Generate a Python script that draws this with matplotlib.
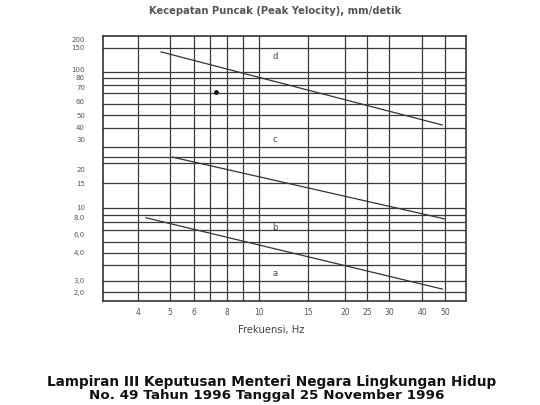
import numpy as np
import matplotlib
matplotlib.use("Agg")
import matplotlib.pyplot as plt

# tick labels
x_ticks = [4, 5, 6, 8, 10, 15, 20, 25, 30, 40, 50]
y_ticks = [2, 3, 4, 6, 8, 10, 15, 20, 30, 40, 50, 60, 70, 80, 100, 150, 200]
y_tick_labels = ['2,0', '3,0', '4,0', '6,0', '8.0', '10', '15', '20', '30', '40',
                 '50', '60', '70', '80', '100', '150', '200']

# boundary lines between zones (Hz, mm/detik)
line_cd_x = [4.7, 48.7]
line_cd_y = [137, 41.5]
line_bc_x = [5.1, 50]
line_bc_y = [23.6, 7.75]
line_ab_x = [4.23, 48.7]
line_ab_y = [7.9, 2.23]

zone_names = ['d', 'c', 'b', 'a']
zone_x = [11.4, 11.4, 11.4, 11.4]
zone_y = [125, 30, 6.8, 3.25]

# speck on the scanned sheet
dot_x = [7.33]
dot_y = [66]

# the printed grid is not a true log grid: map values to page positions
x_anchor_val = [3.13, 4, 5, 6, 7, 8, 9, 10, 15, 20, 25, 30, 40, 50, 62.5]
x_anchor_pos = [103, 138, 170, 194, 210, 227, 243, 259, 308, 345, 367, 389, 422, 445, 466]
y_anchor_val = [1.43, 2, 3, 4, 6, 8, 10, 15, 20, 30, 40, 50, 60, 70, 80, 100, 150, 200, 222]
y_anchor_pos = [301 - p for p in [301, 292, 281, 253, 235, 217, 208, 183, 169, 140, 127,
                                  115, 101, 87, 77, 69, 47, 39, 36]]


def fwd(vals, pos):
    lv = np.log10(vals)
    def f(v):
        v = np.clip(np.asarray(v, dtype=float), 1e-6, None)
        return np.interp(np.log10(v), lv, pos)
    def inv(p):
        return 10 ** np.interp(np.asarray(p, dtype=float), pos, lv)
    return f, inv


x_grid_minor = [7, 9]
y_grid = [2, 3, 3.54, 4, 5.12, 6.5, 7.4, 8.4, 10, 15, 21.7, 23.7, 27.2, 39, 50,
          57.7, 65.5, 72, 79, 92, 147]

fig = plt.figure(figsize=(5.4, 4.05), dpi=100)
ax = fig.add_axes([103 / 540, 1 - 301 / 405, 363 / 540, 265 / 405])

ax.set_xscale('function', functions=fwd(x_anchor_val, x_anchor_pos))
ax.set_yscale('function', functions=fwd(y_anchor_val, y_anchor_pos))
ax.set_xlim(x_anchor_val[0], x_anchor_val[-1])
ax.set_ylim(y_anchor_val[0], y_anchor_val[-1])

ax.set_xticks(x_ticks)
ax.set_xticklabels([str(t) for t in x_ticks])
ax.set_xticks(x_grid_minor, minor=True)
ax.set_yticks(y_ticks)
ax.set_yticklabels(y_tick_labels)
ax.set_yticks(y_grid, minor=True)
ax.yaxis.set_minor_formatter(plt.NullFormatter())
ax.xaxis.set_minor_formatter(plt.NullFormatter())
ax.xaxis.remove_overlapping_locs = False
ax.yaxis.remove_overlapping_locs = False

grid_kw = dict(color='#3a3a3a', linewidth=0.9)
ax.xaxis.grid(True, which='both', **grid_kw)
ax.yaxis.grid(True, which='minor', **grid_kw)
ax.yaxis.grid(False, which='major')
ax.tick_params(which='both', length=0)
ax.tick_params(axis='x', labelsize=5.5, labelcolor='#555555', pad=5)
ax.tick_params(axis='y', labelsize=5, labelcolor='#555555', pad=13)
for s in ax.spines.values():
    s.set_color('#333333')
    s.set_linewidth(1.2)

for lx, ly in [(line_cd_x, line_cd_y), (line_bc_x, line_bc_y), (line_ab_x, line_ab_y)]:
    ax.plot(lx, ly, color='#333333', linewidth=0.9)

for name, zx, zy in zip(zone_names, zone_x, zone_y):
    ax.text(zx, zy, name, fontsize=6, color='#444444', ha='center', va='center')

ax.scatter(dot_x, dot_y, s=6, color='#111111', zorder=3)

fig.text(275 / 540, 1 - 11 / 405, 'Kecepatan Puncak (Peak Yelocity), mm/detik',
         fontsize=7.2, fontweight='bold', color='#555555', ha='center', va='center')
fig.text(271 / 540, 1 - 330 / 405, 'Frekuensi, Hz', fontsize=7.2, color='#444444',
         ha='center', va='center')
fig.text(272 / 540, 1 - 382 / 405,
         'Lampiran III Keputusan Menteri Negara Lingkungan Hidup',
         fontsize=9.8, fontweight='bold', color='#111111', ha='center', va='center')
fig.text(267 / 540, 1 - 395 / 405,
         'No. 49 Tahun 1996 Tanggal 25 November 1996',
         fontsize=9.7, fontweight='bold', color='#111111', ha='center', va='center')

fig.savefig('out.png', dpi=100)
